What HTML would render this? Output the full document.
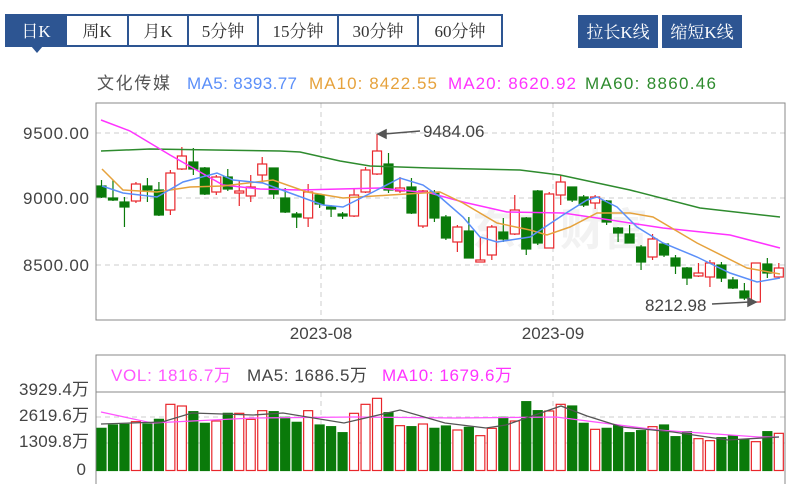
<!DOCTYPE html>
<html><head><meta charset="utf-8"><style>
body{margin:0;background:#fff;width:793px;height:484px;overflow:hidden;font-family:"Liberation Sans","Noto Sans CJK SC",sans-serif}
svg{position:absolute;left:0;top:0}
</style></head><body>
<svg id="s" width="793" height="484" xmlns="http://www.w3.org/2000/svg">
<g font-family="Liberation Serif,Noto Serif CJK SC,serif" font-size="17">
<rect x="6" y="15" width="60" height="31" fill="#2d5592"/>
<polygon points="31,46 43,46 37,53" fill="#2d5592"/>
<text x="36" y="37" fill="#fff" text-anchor="middle">日K</text>
<rect x="6" y="15" width="496" height="31" fill="none" stroke="#2d5592" stroke-width="2"/>
<g stroke="#2d5592" stroke-width="2"><line x1="66" y1="15" x2="66" y2="46"/><line x1="128" y1="15" x2="128" y2="46"/><line x1="188" y1="15" x2="188" y2="46"/><line x1="258" y1="15" x2="258" y2="46"/><line x1="338" y1="15" x2="338" y2="46"/><line x1="418" y1="15" x2="418" y2="46"/></g>
<g fill="#333" text-anchor="middle"><text x="97" y="37">周K</text><text x="158" y="37">月K</text><text x="223" y="37">5分钟</text><text x="298" y="37">15分钟</text><text x="378" y="37">30分钟</text><text x="460" y="37">60分钟</text></g>
<rect x="578" y="15" width="80" height="33" fill="#2d5592"/><rect x="662" y="15" width="80" height="33" fill="#2d5592"/>
<text x="618" y="38" fill="#fff" text-anchor="middle">拉长K线</text><text x="702" y="38" fill="#fff" text-anchor="middle">缩短K线</text>
</g>
<g font-size="17"><text x="97" y="89" fill="#555" textLength="73">文化传媒</text><text x="187" y="89" fill="#5b8ff9" textLength="110">MA5: 8393.77</text><text x="309" y="89" fill="#e6a23c" textLength="128">MA10: 8422.55</text><text x="448" y="89" fill="#ff33ff" textLength="128">MA20: 8620.92</text><text x="585" y="89" fill="#2e8b2e" textLength="131">MA60: 8860.46</text></g>
<text x="560" y="245" font-size="44" fill="#f2f2f2" text-anchor="middle" font-weight="bold">东方财富</text>
<g stroke="#ccc" stroke-dasharray="5,4"><line x1="96" y1="133" x2="785" y2="133"/><line x1="96" y1="198" x2="785" y2="198"/><line x1="96" y1="265" x2="785" y2="265"/><line x1="321" y1="103" x2="321" y2="320"/><line x1="553" y1="103" x2="553" y2="320"/>
<line x1="96" y1="417" x2="785" y2="417"/><line x1="96" y1="443" x2="785" y2="443"/><line x1="321" y1="392" x2="321" y2="470"/><line x1="553" y1="392" x2="553" y2="470"/></g>
<rect x="96" y="103" width="689" height="217" fill="none" stroke="#888"/>
<g font-size="17" fill="#444" text-anchor="end"><text x="89" y="139" textLength="66">9500.00</text><text x="89" y="204" textLength="66">9000.00</text><text x="89" y="271" textLength="66">8500.00</text>
<text x="89" y="395" textLength="70">3929.4万</text><text x="89" y="421" textLength="70">2619.6万</text><text x="89" y="447" textLength="70">1309.8万</text><text x="86" y="475">0</text></g>
<g font-size="17" fill="#444" text-anchor="middle"><text x="321" y="339">2023-08</text><text x="553" y="339">2023-09</text></g>
<rect x="96" y="355" width="689" height="130" fill="none" stroke="#888"/>
<line x1="96" y1="392" x2="785" y2="392" stroke="#888"/>
<g font-size="17"><text x="111" y="381" fill="#ff55ff" textLength="120">VOL: 1816.7万</text><text x="247" y="381" fill="#444" textLength="120">MA5: 1686.5万</text><text x="382" y="381" fill="#ff33ff" textLength="130">MA10: 1679.6万</text></g>
<g id="c"></g>
<g font-size="17" fill="#444"><text x="423" y="137">9484.06</text><text x="645" y="311">8212.98</text></g>
<g stroke="#555" stroke-width="1.5" fill="#555"><line x1="420" y1="131" x2="384" y2="134"/><polygon points="378,134 386,130 386,138"/><line x1="712" y1="304" x2="750" y2="302"/><polygon points="756,302 748,298 748,306"/></g>
</svg>
<script>
var C=[[186,197,180,198,0],[198,200,180,201,0],[202,207,197,227,0],[184,201,182,203,1],[186,190,178,202,0],[190,215,182,216,0],[173,210,170,215,1],[156,169,147,170,1],[162,169,148,175,0],[168,194,167,195,0],[177,192,175,195,1],[177,189,169,191,0],[191,193,180,206,1],[187,196,175,202,1],[164,175,157,183,1],[168,194,168,199,0],[198,212,188,213,0],[214,217,212,228,0],[192,218,184,227,1],[195,204,194,208,0],[207,208,205,217,0],[214,216,212,219,0],[195,216,188,217,1],[170,192,167,193,1],[151,174,134,175,1],[164,190,153,193,0],[188,191,177,193,1],[187,213,178,214,0],[191,226,190,228,1],[192,218,190,222,0],[217,238,215,240,0],[227,242,225,252,1],[231,258,217,258,0],[260,261,237,261,1],[227,255,225,260,1],[232,239,218,242,0],[210,234,195,235,1],[218,249,217,255,0],[191,243,190,245,0],[194,248,192,248,1],[182,195,175,205,1],[187,200,187,202,0],[197,205,195,207,0],[197,203,195,209,1],[201,222,200,225,0],[228,233,227,242,0],[234,243,225,243,0],[247,262,245,270,0],[239,257,234,260,1],[244,255,243,257,0],[258,266,255,274,0],[268,278,267,285,0],[273,276,263,277,1],[263,277,260,287,1],[265,278,262,282,0],[280,288,277,289,0],[291,298,283,300,0],[263,302,263,303,1],[264,273,258,278,0],[268,277,263,278,1]];
var V=[265,255,253,245,252,238,193,198,215,250,243,220,220,238,212,215,232,247,212,255,260,278,220,193,175,218,257,260,252,265,258,270,262,287,265,232,243,185,212,213,193,198,250,268,265,257,278,272,260,255,290,275,296,302,293,288,300,305,275,280];
var h='';
for(var i=0;i<60;i++){var x=101.5+i*11.48,c=C[i],up=c[4],col=up?'#e8262b':'#0a7a0a';
var t=Math.min(c[0],c[1]),b=Math.max(c[0],c[1]);if(b-t<2)b=t+2;
h+='<line x1="'+x+'" y1="'+c[2]+'" x2="'+x+'" y2="'+c[3]+'" stroke="'+col+'" stroke-width="1.2"/>';
h+='<rect x="'+(x-4.5)+'" y="'+t+'" width="9" height="'+(b-t)+'" fill="'+(up?'#fff':col)+'" stroke="'+col+'" stroke-width="1.2"/>';
var vy=340+V[i]/3;h+='<rect x="'+(x-4.5)+'" y="'+vy+'" width="9" height="'+(470.5-vy)+'" fill="'+(up?'#fff':col)+'" stroke="'+col+'" stroke-width="1.2"/>';}
function pl(p,col,w){h+='<polyline points="'+p+'" fill="none" stroke="'+col+'" stroke-width="'+(w||1.5)+'"/>';}
pl('101,151 150,149 280,151 300,152 340,161 370,166 430,168 520,170 560,175 630,190 700,208 780,217','#2e8b2e');
pl('101,120 130,131 170,155 223,185 260,189 300,190 380,188 430,193 463,202 507,212 563,213 597,218 663,228 730,235 780,248','#ff33ff');
pl('102,169 123,190 157,192 190,187 223,186 273,180 307,192 343,198 390,195 440,192 463,203 497,223 530,230 547,235 570,227 597,213 630,213 653,217 697,243 747,268 780,274','#e6a23c');
pl('102,186 123,193 157,197 183,182 217,173 233,180 263,183 290,193 323,205 343,207 373,192 400,178 423,185 440,197 463,217 480,237 497,242 530,237 563,215 587,200 597,197 617,207 637,227 663,243 697,257 730,273 757,282 780,278','#5b8ff9');
pl('101,412 152,423 253,418 354,417 455,418 556,417 658,430 759,437 779,437','#ff55ff',1.3);
pl('101,424 162,422 192,413 253,415 283,413 344,423 400,410 445,423 486,428 506,425 561,406 587,416 622,427 673,432 728,440 779,437','#555',1.3);
document.getElementById('c').innerHTML=h;
</script>
</body></html>
